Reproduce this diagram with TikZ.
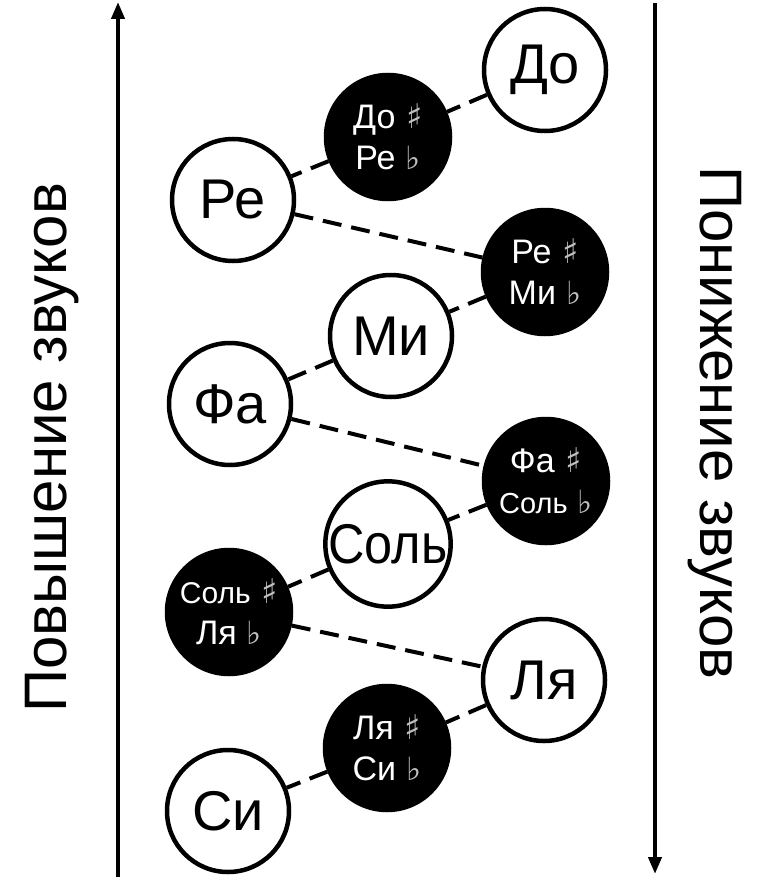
\documentclass[tikz,border=0pt]{standalone}
\usepackage{fontspec}
\setmainfont{Liberation Sans}
\newfontfamily\symfont{DejaVu Sans}
\usetikzlibrary{arrows.meta}
\newcommand{\shp}{{\symfont\fontsize{34}{34}\selectfont\color{white!75!black}\ ♯}}
\newcommand{\flt}{{\symfont\fontsize{32}{32}\selectfont\color{white!75!black}\ ♭}}
\begin{document}
\begin{tikzpicture}[x=1pt,y=-1pt,
  wnote/.style={circle, draw=black, line width=4.5pt, fill=white, minimum size=122pt, inner sep=0pt, font=\fontsize{56}{56}\selectfont},
  bnote/.style={circle, draw=black, line width=4.5pt, fill=black, minimum size=124pt, inner sep=0pt, text=white, font=\fontsize{34}{41}\selectfont, align=center},
  link/.style={line width=4pt, dash pattern=on 19pt off 10pt},
  axis/.style={line width=4pt, -{Triangle[length=17pt,width=13pt]}},
  side/.style={font=\fontsize{60}{60}\selectfont, inner sep=0pt}]
\useasboundingbox[fill=white] (0,0) rectangle (772,880);

% axes
\coordinate (la0) at (118,877);
\coordinate (la1) at (118,2);
\coordinate (ra0) at (655,3);
\coordinate (ra1) at (655,874);
\draw[axis] (la0) -- (la1);
\draw[axis] (ra0) -- (ra1);

% side labels
\node[side, rotate=90] (up) at (52,448) {Повышение звуков};
\node[side, rotate=-90] (down) at (715,423) {Понижение звуков};

% notes
\node[wnote] (do) at (545,70) {До};
\node[bnote] (dos) at (388,137) {До\shp\\Ре\flt};
\node[wnote] (re) at (233,200) {Ре};
\node[bnote] (res) at (545,272) {Ре\shp\\Ми\flt};
\node[wnote] (mi) at (391,336) {Ми};
\node[wnote] (fa) at (230,404) {Фа};
\node[bnote] (fas) at (546,481) {Фа\shp\\{\fontsize{29}{29}\selectfont Соль}\flt};
\node[wnote] (sol) at (388,544) {\scalebox{0.9}[1]{Соль}};
\node[bnote] (sols) at (229,612) {{\fontsize{30}{30}\selectfont Соль}\shp\\Ля\flt};
\node[wnote] (la) at (544,680) {Ля};
\node[bnote] (las) at (387,748) {Ля\shp\\Си\flt};
\node[wnote] (si) at (228,811) {Си};

% connectors
\draw[link] (do) -- (dos);
\draw[link] (dos) -- (re);
\draw[link] (re) -- (res);
\draw[link] (res) -- (mi);
\draw[link] (mi) -- (fa);
\draw[link] (fa) -- (fas);
\draw[link] (fas) -- (sol);
\draw[link] (sol) -- (sols);
\draw[link] (sols) -- (la);
\draw[link] (la) -- (las);
\draw[link] (las) -- (si);
\end{tikzpicture}
\end{document}
